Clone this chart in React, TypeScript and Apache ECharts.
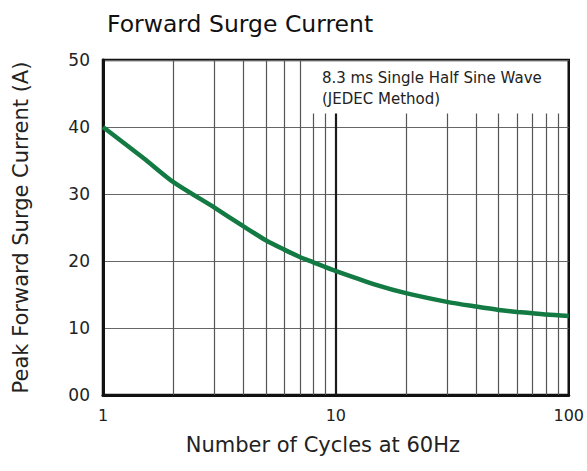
import React, { useEffect, useRef } from "react";
import * as echarts from "echarts";

const cycles = [1, 1.5, 2, 3, 4, 5, 6, 7, 8, 9, 10, 15, 20, 30, 40, 50, 60, 70, 80, 100];
const surgeCurrent = [40, 35.3, 31.8, 28.0, 25.2, 23.1, 21.7, 20.6, 19.8, 19.1, 18.5, 16.4, 15.2, 13.9, 13.2, 12.7, 12.4, 12.2, 12.0, 11.8];
const fullGridCycles = [2, 3, 4, 5, 6, 7];
const shortGridCycles = [8, 9, 20, 30, 40, 50, 60, 70, 80, 90];
const decadeGridCycles = [10];
const yTicks = [0, 10, 20, 30, 40, 50];
const noteLines = ["8.3 ms Single Half Sine Wave", "(JEDEC Method)"];
const noteBottomValue = 42;

const FONT = "DejaVu Sans";

export default function App() {
  const ref = useRef<HTMLDivElement>(null);
  useEffect(() => {
    if (!ref.current) return;
    const chart = echarts.init(ref.current, undefined, { renderer: "svg" });
    const lineData = cycles.map((c, i) => [c, surgeCurrent[i]]);
    const markFull = fullGridCycles.map((v) => ({ xAxis: v }));
    const markShort = shortGridCycles.map((v) => [
      { coord: [v, 0] },
      { coord: [v, noteBottomValue] },
    ]);
    const markDecade = decadeGridCycles.map((v) => [
      { coord: [v, 0] },
      { coord: [v, noteBottomValue] },
    ]);
    chart.setOption({
      animation: false,
      title: {
        text: "Forward Surge Current",
        left: 102,
        top: 7,
        textStyle: { fontFamily: FONT, fontSize: 23.5, fontWeight: "normal", color: "#111" },
      },
      grid: {
        left: 103,
        right: 18,
        top: 60,
        bottom: 76,
        show: true,
        borderColor: "#111",
        borderWidth: 2.5,
        backgroundColor: "transparent",
      },
      xAxis: {
        type: "log",
        logBase: 10,
        min: 1,
        max: 100,
        name: "Number of Cycles at 60Hz",
        nameLocation: "middle",
        nameGap: 39,
        nameTextStyle: { fontFamily: FONT, fontSize: 21, color: "#222", padding: [0, 26, 0, 0] },
        axisLine: { show: true, lineStyle: { color: "#111", width: 3 } },
        axisTick: { show: false },
        axisLabel: { fontFamily: FONT, fontSize: 16, color: "#222", margin: 12 },
        splitLine: { show: false },
        minorSplitLine: { show: false },
      },
      yAxis: {
        type: "value",
        min: 0,
        max: 50,
        interval: 10,
        name: "Peak Forward Surge Current (A)",
        nameLocation: "middle",
        nameGap: 72,
        nameTextStyle: { fontFamily: FONT, fontSize: 21, color: "#222" },
        axisLine: { show: true, lineStyle: { color: "#111", width: 3 } },
        axisTick: { show: false },
        axisLabel: {
          fontFamily: FONT,
          fontSize: 17,
          color: "#222",
          margin: 13,
          formatter: (v: number) => (yTicks.includes(v) && v < 10 ? "0" + v : String(v)),
        },
        splitLine: { show: true, lineStyle: { color: "#666", width: 1 } },
      },
      graphic: [
        {
          type: "text",
          left: 322,
          top: 67,
          style: {
            text: noteLines.join("\n"),
            fontFamily: FONT,
            fontSize: 15,
            lineHeight: 21,
            fill: "#222",
          },
        },
      ],
      series: [
        {
          type: "line",
          data: [[1, 0]],
          showSymbol: false,
          lineStyle: { width: 0 },
          silent: true,
          z: 1,
          markLine: {
            silent: true,
            symbol: ["none", "none"],
            label: { show: false },
            emphasis: { disabled: true },
            lineStyle: { color: "#555", width: 1.2, type: "solid" },
            data: [...markFull, ...markShort],
          },
        },
        {
          type: "line",
          data: [[1, 0]],
          showSymbol: false,
          lineStyle: { width: 0 },
          silent: true,
          z: 1,
          markLine: {
            silent: true,
            symbol: ["none", "none"],
            label: { show: false },
            emphasis: { disabled: true },
            lineStyle: { color: "#1a1a1a", width: 2.2, type: "solid" },
            data: markDecade,
          },
        },
        {
          type: "line",
          data: lineData,
          smooth: 0.25,
          showSymbol: false,
          z: 5,
          lineStyle: { color: "#127a42", width: 4.5 },
        },
      ],
    });
    return () => chart.dispose();
  }, []);
  return (
    <div
      ref={ref}
      style={{ position: "fixed", left: 0, top: 0, width: 587, height: 471, background: "#fff" }}
    />
  );
}
